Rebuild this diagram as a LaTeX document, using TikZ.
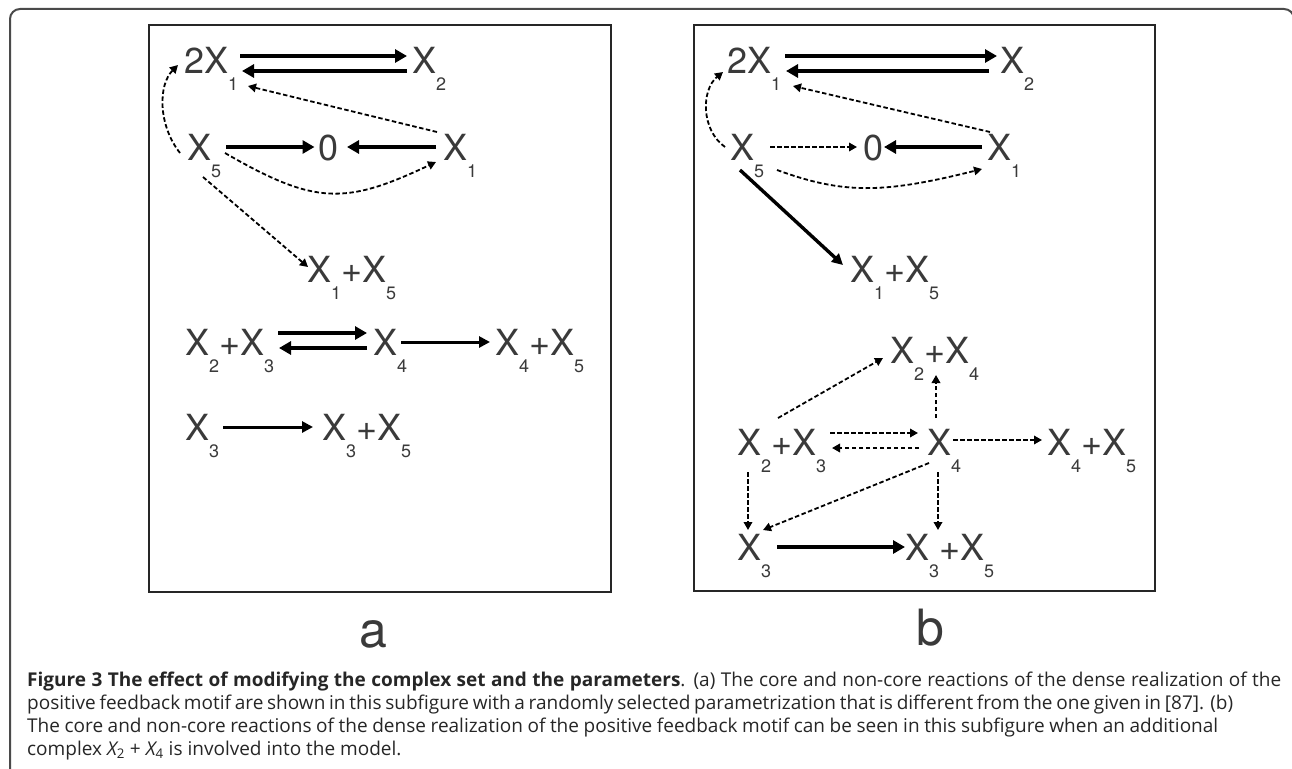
\documentclass[tikz,border=0pt]{standalone}
\usepackage{fontspec}
\setmainfont{TeX Gyre Heros}
\newfontfamily\capfont{Open Sans}
\usetikzlibrary{arrows.meta,calc}
\definecolor{txt}{HTML}{3A3A3A}
\definecolor{framegray}{HTML}{4A4A4A}
\definecolor{captxt}{HTML}{262626}
\newcommand{\sbs}[1]{\raisebox{-17pt}{\fontsize{18}{18}\selectfont #1}}
\begin{document}
\begin{tikzpicture}[x=1pt,y=-1pt,
  lbl/.style={anchor=base west, inner sep=0pt, outer sep=0pt, text=txt, font=\fontsize{36}{36}\selectfont},
  panelbox/.style={draw=black!85, line width=1.3pt},
  solidarr/.style={draw=black, line width=3.6pt, -{Triangle[length=12pt,width=13pt]}},
  midarr/.style={draw=black, line width=3pt, -{Triangle[length=11pt,width=11pt]}},
  dasharr/.style={draw=black, line width=1.8pt, dash pattern=on 4.5pt off 2.5pt, -{Triangle[length=8pt,width=8.5pt]}},
  sublbl/.style={anchor=base, inner sep=0pt, text=txt, font=\fontsize{50}{50}\selectfont},
  captext/.style={anchor=base west, inner sep=0pt, text=captxt, font=\capfont\fontsize{19}{23}\selectfont}
]
\useasboundingbox (0,0) rectangle (1292,768);
% outer frame
\draw[framegray, line width=2pt, rounded corners=10pt] (10,770) -- (10,9) -- (1294,9) -- (1294,770);
% panel boxes
\draw[panelbox] (149,25) rectangle (611,592);
\draw[panelbox] (694,25) rectangle (1155,591);

% ---------------- panel a ----------------
\node[lbl] (a2X1) at (184,74) {2X\sbs{1}};
\node[lbl] (aX2) at (412,74) {X\sbs{2}};
\node[lbl] (aX5) at (187,160) {X\sbs{5}};
\node[lbl] (a0) at (318.5,160) {0};
\node[lbl] (aX1) at (443,160) {X\sbs{1}};
\node[lbl] (aX1X5) at (307,282) {X\sbs{1}+X\sbs{5}};
\node[lbl] (aX2X3) at (185,355) {X\sbs{2}+X\sbs{3}};
\node[lbl] (aX4) at (373,355) {X\sbs{4}};
\node[lbl] (aX4X5) at (495,355) {X\sbs{4}+X\sbs{5}};
\node[lbl] (aX3) at (185,440) {X\sbs{3}};
\node[lbl] (aX3X5) at (322,440) {X\sbs{3}+X\sbs{5}};

\draw[solidarr] ($(a2X1.base west)+(56,-18)$) -- ($(aX2.base west)+(-5,-18)$);
\draw[solidarr] ($(aX2.base west)+(-5,-3)$) -- ($(a2X1.base west)+(58,-3)$);
\draw[solidarr] ($(aX5.base west)+(39,-13)$) -- ($(a0.base west)+(-4,-13)$);
\draw[solidarr] ($(aX1.base west)+(-7,-13)$) -- ($(a0.base west)+(28.5,-13)$);
\draw[dasharr] ($(aX5.base west)+(-7,-7)$) .. controls +(-22,-28) and +(-20,20) .. ($(a2X1.base west)+(-6,-9)$);
\draw[dasharr] ($(aX1.base west)+(-6,-28)$) -- ($(a2X1.base west)+(64,12)$);
\draw[dasharr] ($(aX5.base west)+(38,-7)$) .. controls +(90,52) and +(-91,43) .. ($(aX1.base west)+(-7,2)$);
\draw[dasharr] ($(aX5.base west)+(16,17)$) -- ($(aX1X5.base west)+(1,-15)$);
\draw[solidarr] ($(aX2X3.base west)+(93,-22)$) -- ($(aX4.base west)+(-6,-22)$);
\draw[solidarr] ($(aX4.base west)+(-6,-7)$) -- ($(aX2X3.base west)+(94,-7)$);
\draw[midarr] ($(aX4.base west)+(28,-13)$) -- ($(aX4X5.base west)+(-5,-13)$);
\draw[midarr] ($(aX3.base west)+(38,-13)$) -- ($(aX3X5.base west)+(-9,-13)$);

% ---------------- panel b ----------------
\node[lbl] (b2X1) at (727,74) {2X\sbs{1}};
\node[lbl] (bX2) at (1000,74) {X\sbs{2}};
\node[lbl] (bX5) at (730,160) {X\sbs{5}};
\node[lbl] (b0) at (863.5,160) {0};
\node[lbl] (bX1) at (987,160) {X\sbs{1}};
\node[lbl] (bX1X5) at (850,282) {X\sbs{1}+X\sbs{5}};
\node[lbl] (bX2X4) at (890,363) {X\sbs{2}+X\sbs{4}};
\node[lbl] (bX2X3) at (737,455) {X\sbs{2}+X\sbs{3}};
\node[lbl] (bX4) at (927,455) {X\sbs{4}};
\node[lbl] (bX4X5) at (1047,455) {X\sbs{4}+X\sbs{5}};
\node[lbl] (bX3) at (737,560) {X\sbs{3}};
\node[lbl] (bX3X5) at (905,560) {X\sbs{3}+X\sbs{5}};

\draw[solidarr] ($(b2X1.base west)+(58,-18)$) -- ($(bX2.base west)+(-3,-18)$);
\draw[solidarr] ($(bX2.base west)+(-11,-3)$) -- ($(b2X1.base west)+(59,-3)$);
\draw[dasharr] ($(bX5.base west)+(40,-13)$) -- ($(b0.base west)+(-6.5,-13)$);
\draw[solidarr] ($(bX1.base west)+(-5,-13)$) -- ($(b0.base west)+(20.5,-13)$);
\draw[dasharr] ($(bX5.base west)+(-5,-13)$) .. controls +(-24,-17) and +(-22,18) .. ($(b2X1.base west)+(-4,-2)$);
\draw[dasharr] ($(bX1.base west)+(3,-28)$) -- ($(b2X1.base west)+(66,12)$);
\draw[dasharr] ($(bX5.base west)+(47,10)$) .. controls +(66,24) and +(-100,25) .. ($(bX1.base west)+(-5,9)$);
\draw[midarr, line width=3.4pt] ($(bX5.base west)+(10,10)$) -- ($(bX1X5.base west)+(-7,-17)$);
\draw[dasharr] ($(bX2X3.base west)+(41,-37)$) -- ($(bX2X4.base west)+(-7,-5)$);
\draw[dasharr] ($(bX4.base west)+(9,-37)$) -- ($(bX2X4.base west)+(46,12)$);
\draw[dasharr] ($(bX2X3.base west)+(93,-22)$) -- ($(bX4.base west)+(-9,-22)$);
\draw[dasharr] ($(bX4.base west)+(-8,-7)$) -- ($(bX2X3.base west)+(95,-7)$);
\draw[dasharr] ($(bX4.base west)+(26,-15)$) -- ($(bX4X5.base west)+(-5,-15)$);
\draw[dasharr] ($(bX2X3.base west)+(11,17)$) -- ($(bX3.base west)+(11,-30)$);
\draw[dasharr] ($(bX4.base west)+(2,8)$) -- ($(bX3.base west)+(26,-30)$);
\draw[dasharr] ($(bX4.base west)+(11,17)$) -- ($(bX3X5.base west)+(33,-30)$);
\draw[solidarr] ($(bX3.base west)+(40,-13)$) -- ($(bX3X5.base west)+(0,-13)$);

% sub-figure letters
\node[sublbl] (la) at (373,647) {a};
\node[sublbl] (lb) at (930,645) {b};

% caption
\node[captext] (c1) at (27,686) {\makebox[1254pt][s]{\textbf{Figure 3 The effect of modifying the complex set and the parameters}. (a) The core and non-core reactions of the dense realization of the}};
\node[captext] (c2) at (27,709) {\makebox[1206pt][s]{positive feedback motif are shown in this subfigure with a randomly selected parametrization that is different from the one given in [87]. (b)}};
\node[captext] (c3) at (27,732) {\makebox[1191pt][s]{The core and non-core reactions of the dense realization of the positive feedback motif can be seen in this subfigure when an additional}};
\node[captext] (c4) at (27,755) {complex {\itshape X}\textsubscript{2} + {\itshape X}\textsubscript{4} is involved into the model.};
\end{tikzpicture}
\end{document}
